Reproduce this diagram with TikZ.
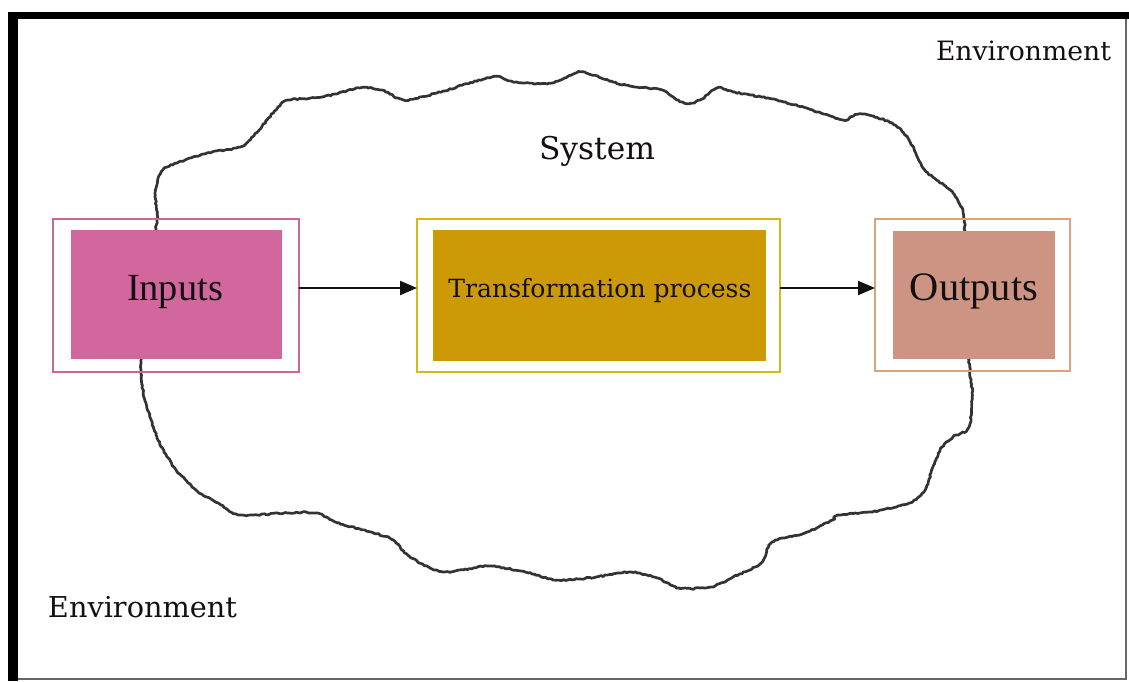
\documentclass[tikz,border=0pt]{standalone}
\usepackage{graphicx}
\usepackage{fontspec}
\setmainfont{DejaVu Serif}
\newfontfamily\boxfont{Liberation Serif}
\usetikzlibrary{arrows.meta,decorations.pathmorphing}

\definecolor{inframe}{RGB}{200,104,152}
\definecolor{infill}{RGB}{210,103,158}
\definecolor{trframe}{RGB}{214,184,22}
\definecolor{trfill}{RGB}{204,154,6}
\definecolor{outframe}{RGB}{220,162,124}
\definecolor{outfill}{RGB}{205,148,132}
\definecolor{ink}{RGB}{20,16,16}

\tikzset{
  frame/.style={draw, line width=2.8pt, inner sep=0pt, outer sep=0pt},
  panel/.style={fill, draw=none, inner sep=0pt, outer sep=0pt},
  label/.style={anchor=base, inner sep=0pt, text=ink},
  flow/.style={line width=2pt, draw=ink, -{Triangle[length=17pt,width=14pt]}},
  boundary/.style={draw=black!80, line width=2.7pt, line join=round,
    decorate, decoration={random steps, segment length=2.2pt, amplitude=0.7pt}}
}

\begin{document}
\begin{tikzpicture}[x=1pt,y=-1pt]
  % page and bounding box
  \fill[white] (0,0) rectangle (1129,681);
  \useasboundingbox (0,0) rectangle (1129,681);

  % outer border: heavy top and left edges, fine grey right and bottom edges
  \draw[black!60, line width=1.2pt] (8,679) -- (1126,679) -- (1126,15);
  \draw[black, line width=7pt] (8,15.5) -- (1129,15.5);
  \draw[black, line width=10pt] (13,12) -- (13,681);

  % system boundary
  \pgfmathsetseed{11}
  \draw[boundary] plot[smooth cycle, tension=0.5] coordinates {
    (157,219) (155,193) (163,170) (185,160) (212,152) (240,147) (256,133)
    (278,107) (289,100) (322,97) (360,88) (382,90) (404,100) (437,93)
    (492,77) (514,82) (552,83) (580,72) (613,82) (635,87) (662,90)
    (684,103) (700,100) (717,88) (733,92) (777,100) (821,113) (843,120)
    (860,114) (892,123) (909,140) (925,170) (953,193) (964,219)
    (966,290)
    (969,360) (972,393) (969,427) (953,437) (942,447) (936,460) (931,473)
    (925,490) (909,503) (871,512) (838,515) (832,520) (805,533) (772,542)
    (761,563) (733,577) (711,587) (679,588) (657,578) (629,572) (596,577)
    (558,580) (525,572) (487,566) (443,572) (410,557) (393,540) (371,532)
    (338,523) (316,513) (284,513) (240,515) (218,503) (196,490) (174,467)
    (157,437) (146,403) (141,370)
    (148,290)};

  % blocks: outer frames and filled panels
  \node[frame, draw=inframe, minimum width=246pt, minimum height=153pt] (in) at (176,295.5) {};
  \node[panel, fill=infill, minimum width=211pt, minimum height=129pt] (inp) at (176.5,294.5) {};
  \node[frame, draw=trframe, minimum width=363pt, minimum height=153pt] (tr) at (598.5,295.5) {};
  \node[panel, fill=trfill, minimum width=333pt, minimum height=131pt] (trp) at (599.5,295.5) {};
  \node[frame, draw=outframe, minimum width=195pt, minimum height=152pt] (out) at (972.5,295) {};
  \node[panel, fill=outfill, minimum width=162pt, minimum height=128pt] (outp) at (974,295) {};

  % block captions
  \node[label] (inl) at (175,300) {\resizebox{96pt}{!}{\boxfont Inputs}};
  \node[label] (trl) at (600,297) {\resizebox{303pt}{!}{Transformation process}};
  \node[label] (outl) at (974,300) {\resizebox{128pt}{!}{\boxfont Outputs}};

  % flow arrows
  \draw[flow] ([yshift=7.5pt]in.east) -- ([yshift=7.5pt]tr.west);
  \draw[flow] ([yshift=7.5pt]tr.east) -- ([yshift=7pt]out.west);

  % region labels
  \node[label] (sys) at (597,159) {\resizebox{116pt}{!}{System}};
  \node[label] (envtop) at (1023.5,60) {\resizebox{175pt}{!}{Environment}};
  \node[label] (envbot) at (142.5,617) {\resizebox{189pt}{!}{Environment}};
\end{tikzpicture}
\end{document}
